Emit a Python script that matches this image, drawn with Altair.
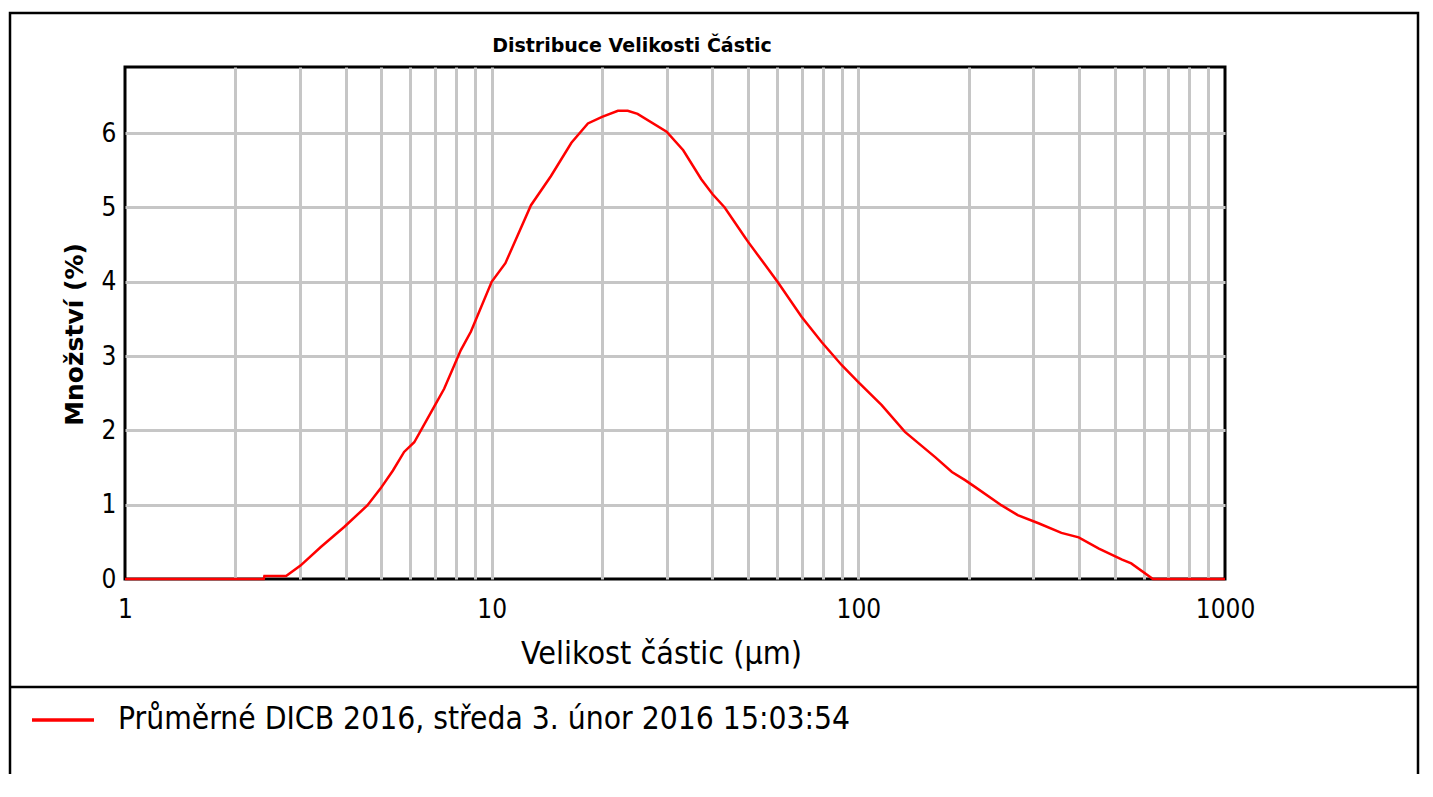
import altair as alt
import pandas as pd

# particle size (µm) and amount (%)
sizes = [1.0, 2.39, 2.40, 2.75, 3.01, 3.42, 3.96, 4.58, 4.98, 5.38, 5.77, 6.15,
         6.97, 7.42, 8.24, 8.78, 10.0, 10.9, 12.8, 14.5, 16.5, 18.3, 20.0, 22.1,
         23.5, 25.0, 30.0, 33.3, 37.3, 40.0, 43.2, 48.9, 50.0, 60.4, 70.0, 79.4,
         90.0, 100.0, 115.8, 134.0, 162.0, 180.0, 195.5, 208.0, 246.0, 272.0,
         310.0, 358.0, 399.0, 453.0, 524.0, 555.0, 636.0, 1000.0]
amounts = [0.0, 0.0, 0.04, 0.04, 0.18, 0.43, 0.70, 0.99, 1.22, 1.46, 1.71, 1.84,
           2.32, 2.56, 3.08, 3.33, 4.00, 4.25, 5.03, 5.42, 5.87, 6.13, 6.22, 6.30,
           6.30, 6.26, 6.02, 5.77, 5.38, 5.18, 5.00, 4.61, 4.54, 3.99, 3.53, 3.19,
           2.88, 2.65, 2.34, 1.98, 1.64, 1.44, 1.33, 1.24, 0.99, 0.86,
           0.75, 0.62, 0.56, 0.41, 0.26, 0.21, 0.0, 0.0]
series_name = "Průměrné DICB 2016, středa 3. únor 2016 15:03:54"

x_grid = [1, 2, 3, 4, 5, 6, 7, 8, 9, 10, 20, 30, 40, 50, 60, 70, 80, 90,
          100, 200, 300, 400, 500, 600, 700, 800, 900, 1000]
x_labels = [1, 10, 100, 1000]
y_ticks = [0, 1, 2, 3, 4, 5, 6]

title_text = "Distribuce Velikosti Částic"
x_title = "Velikost částic (µm)"
y_title = "Množství (%)"

df = pd.DataFrame({"size": sizes, "amount": amounts, "series": series_name})
one = pd.DataFrame({"k": [0]})

NARROW = "Liberation Sans Narrow, DejaVu Sans Condensed, Roboto Condensed, Roboto, sans-serif"
GRID = "#c6c6c6"
W, H = 1100, 512

label_test = " || ".join(f"datum.value == {v}" for v in x_labels)

x_axis = alt.Axis(
    values=x_grid, format="d",
    labelExpr=f"({label_test}) ? datum.label : ''",
    labelFlush=False, labelOverlap=False, labelBound=False,
    labelFont=NARROW, labelFontSize=26, labelColor="black",
    labelBaseline="alphabetic", labelPadding=38,
    ticks=False, tickSize=0, domain=False,
    grid=True, gridWidth=3,
    gridColor={"condition": {"test": "datum.value <= 1 || datum.value >= 1000",
                             "value": "rgba(0,0,0,0)"}, "value": GRID},
    title=x_title, titleFont=NARROW, titleFontSize=32, titleFontWeight="normal",
    titleColor="black", titleX=536, titleY=84, titleBaseline="alphabetic",
    titleAlign="center",
)
y_axis = alt.Axis(
    values=y_ticks, format="d",
    labelFont=NARROW, labelFontSize=26, labelColor="black", labelPadding=9,
    ticks=False, tickSize=0, domain=False,
    grid=True, gridWidth=3,
    gridColor={"condition": {"test": "datum.value <= 0",
                             "value": "rgba(0,0,0,0)"}, "value": GRID},
    title=y_title, titleFont="DejaVu Sans", titleFontSize=25, titleFontWeight="bold",
    titleColor="black", titleX=-43, titleY=267, titleAngle=-90,
    titleBaseline="alphabetic", titleAlign="center",
)

line = alt.Chart(df).mark_line(strokeWidth=2.5).encode(
    x=alt.X("size:Q", scale=alt.Scale(type="log", domain=[1, 1000], nice=False),
            axis=x_axis),
    y=alt.Y("amount:Q", scale=alt.Scale(domain=[0, 6.89], nice=False, zero=True),
            axis=y_axis),
    color=alt.Color("series:N", scale=alt.Scale(range=["#ff0000"]),
                    legend=alt.Legend(orient="none", legendX=-95, legendY=620,
                                      title=None, symbolType="stroke",
                                      symbolSize=3844, symbolStrokeWidth=3.5,
                                      padding=0, labelOffset=22,
                                      labelFont=NARROW, labelFontSize=31.5,
                                      labelColor="black", labelLimit=1200)),
)

frame = alt.Chart(one).mark_rect(fill=None, stroke="black", strokeWidth=2.5).encode(
    x=alt.value(-115), x2=alt.value(1293), y=alt.value(-54), y2=alt.value(760)
)
sep = alt.Chart(one).mark_rule(color="black", strokeWidth=2.5).encode(
    x=alt.value(-115), x2=alt.value(1293), y=alt.value(620)
)

chart = alt.layer(frame, sep, line).properties(
    width=W, height=H,
    background="white",
    title=alt.TitleParams(title_text, font="DejaVu Sans", fontSize=19,
                          fontWeight="bold", color="black", anchor="middle",
                          frame="group", dx=-43, offset=-63, baseline="bottom"),
    padding={"left": 117, "top": 59, "right": 195, "bottom": 195},
    autosize=alt.AutoSizeParams(type="none"),
).configure_view(stroke="black", strokeWidth=3)

chart.save("out.html", embed_options={"renderer": "svg", "actions": False})
